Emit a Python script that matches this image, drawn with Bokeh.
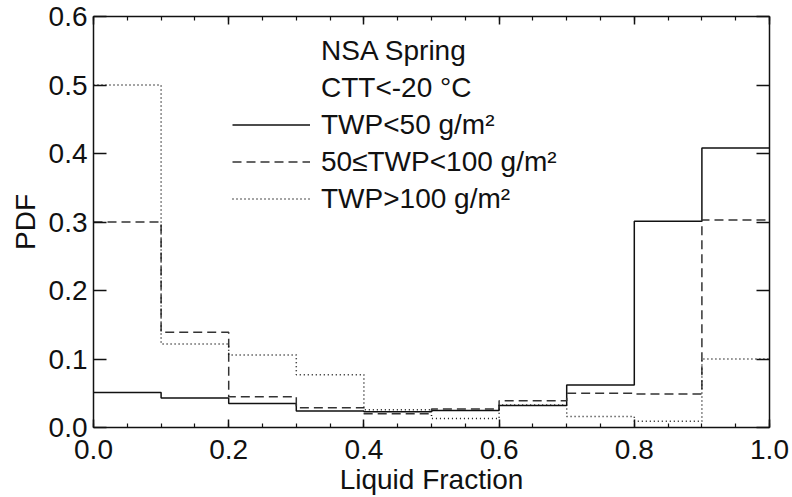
from bokeh.plotting import figure
from bokeh.models import (Range1d, LinearAxis, FixedTicker, PrintfTickFormatter, Legend,
                          LegendItem, CustomJSTickFormatter)
from bokeh.embed import file_html
from bokeh.resources import INLINE

# ---- data ----
bin_edges = [0.0, 0.1, 0.2, 0.3, 0.4, 0.5, 0.6, 0.7, 0.8, 0.9, 1.0]
pdf_twp_lt50 = [0.051, 0.043, 0.035, 0.024, 0.023, 0.025, 0.032, 0.062, 0.301, 0.408]
pdf_twp_50_100 = [0.300, 0.139, 0.045, 0.029, 0.020, 0.027, 0.039, 0.050, 0.049, 0.303]
pdf_twp_gt100 = [0.500, 0.122, 0.106, 0.077, 0.026, 0.013, 0.033, 0.016, 0.009, 0.100]

x_ticks = [0.0, 0.2, 0.4, 0.6, 0.8, 1.0]
x_minor_ticks = [0.05 * i for i in range(21)]
y_ticks = [0.0, 0.1, 0.2, 0.3, 0.4, 0.5, 0.6]

header_lines = ["NSA Spring", "CTT<-20 \u00b0C"]
series_labels = ["TWP<50 g/m\u00b2", "50\u2264TWP<100 g/m\u00b2", "TWP>100 g/m\u00b2"]
x_title = "Liquid Fraction"
y_title = "PDF"

FONT = "Liberation Sans"
FS = "28px"
INK = "#111111"

p = figure(width=792, height=497, output_backend="svg", toolbar_location=None,
           x_range=Range1d(0, 1), y_range=Range1d(0, 0.6),
           min_border_left=93, min_border_right=23, min_border_top=16, min_border_bottom=67)
p.grid.visible = False
p.outline_line_color = None
p.background_fill_color = "white"
p.border_fill_color = "white"

bx = p.below[0]
ly = p.left[0]

xt = FixedTicker(ticks=x_ticks, minor_ticks=x_minor_ticks)
yt = FixedTicker(ticks=y_ticks, minor_ticks=[])

top_ax = LinearAxis()
right_ax = LinearAxis()
p.add_layout(top_ax, "above")
p.add_layout(right_ax, "right")

for ax in [bx, top_ax]:
    ax.ticker = xt
    ax.major_tick_in = 8
    ax.major_tick_out = 0
    ax.minor_tick_in = 4
    ax.minor_tick_out = 0
for ax in [ly, right_ax]:
    ax.ticker = yt
    ax.major_tick_in = 13
    ax.major_tick_out = 0
    ax.minor_tick_in = 0
    ax.minor_tick_out = 0

for ax in [bx, top_ax, ly, right_ax]:
    ax.axis_line_color = INK
    ax.axis_line_width = 1.5
    ax.major_tick_line_color = INK
    ax.major_tick_line_width = 1.5
    ax.minor_tick_line_color = INK
    ax.minor_tick_line_width = 1.2
    ax.major_label_text_font = FONT
    ax.major_label_text_font_size = FS
    ax.major_label_text_color = INK
    ax.axis_label_text_font = FONT
    ax.axis_label_text_font_size = FS
    ax.axis_label_text_font_style = "normal"
    ax.axis_label_text_color = INK

for ax in [top_ax, right_ax]:
    ax.formatter = CustomJSTickFormatter(code="return ''")
    ax.major_label_standoff = 0

bx.formatter = PrintfTickFormatter(format="%.1f")
bx.major_label_standoff = 12
bx.axis_label = x_title
bx.axis_label_standoff = 2

ly.formatter = PrintfTickFormatter(format="%.1f")
ly.major_label_standoff = 6
ly.axis_label = y_title
ly.axis_label_standoff = 5

def step_y(vals):
    return list(vals) + [vals[-1]]

r1 = p.step(x=bin_edges, y=step_y(pdf_twp_lt50), mode="after",
            line_color=INK, line_width=1.5)
r2 = p.step(x=bin_edges, y=step_y(pdf_twp_50_100), mode="after",
            line_color="#333333", line_width=1.5, line_dash="9 5")
r3 = p.step(x=bin_edges, y=step_y(pdf_twp_gt100), mode="after",
            line_color=INK, line_width=1.5, line_dash="1 3")

h1 = p.line(x=[], y=[], line_alpha=0)
h2 = p.line(x=[], y=[], line_alpha=0)

items = [LegendItem(label=header_lines[0], renderers=[h1]),
         LegendItem(label=header_lines[1], renderers=[h2]),
         LegendItem(label=series_labels[0], renderers=[r1]),
         LegendItem(label=series_labels[1], renderers=[r2]),
         LegendItem(label=series_labels[2], renderers=[r3])]

legend = Legend(items=items, location=(139, 210),
                background_fill_alpha=0, border_line_alpha=0,
                padding=0, margin=0, spacing=0,
                glyph_width=78, glyph_height=37, label_height=37,
                label_standoff=11, label_text_font=FONT, label_text_font_size=FS,
                label_text_color=INK)
p.add_layout(legend)

open("out.html", "w").write(file_html(p, INLINE))
